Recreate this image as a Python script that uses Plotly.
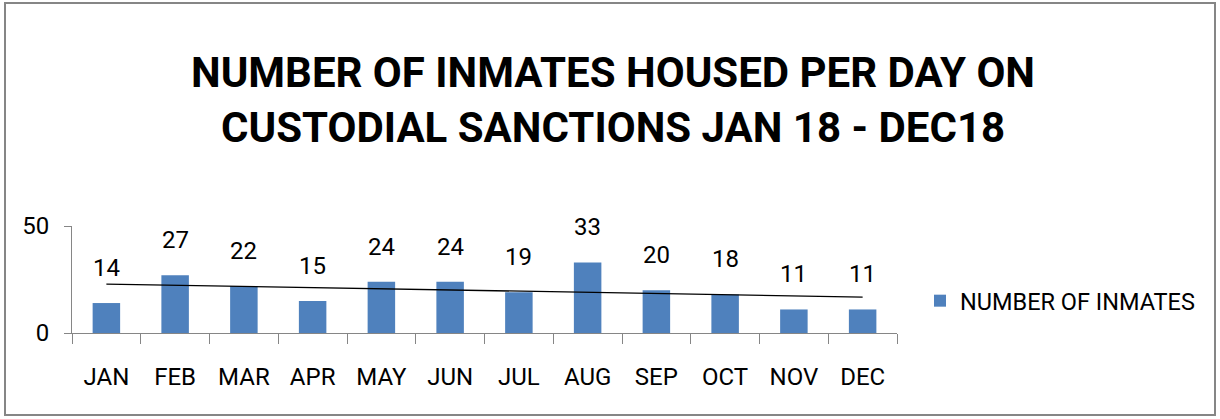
import numpy as np
import plotly.graph_objects as go

months = ["JAN", "FEB", "MAR", "APR", "MAY", "JUN", "JUL", "AUG", "SEP", "OCT", "NOV", "DEC"]
inmates = [14, 27, 22, 15, 24, 24, 19, 33, 20, 18, 11, 11]
series_name = "NUMBER OF INMATES"
title_lines = ["NUMBER OF INMATES HOUSED PER DAY ON", "CUSTODIAL SANCTIONS JAN 18 - DEC18"]
y_ticks = [0, 50]

FONT = "Roboto, DejaVu Sans Condensed, sans-serif"
BLUE = "#4F81BD"

# linear trend line (as in the spreadsheet's trendline)
xi = np.arange(1, len(inmates) + 1)
slope, intercept = np.polyfit(xi, inmates, 1)
trend = (slope * xi + intercept).tolist()

fig = go.Figure()
fig.add_trace(go.Bar(
    x=months, y=inmates, name=series_name, width=0.4,
    marker=dict(color=BLUE, line=dict(width=0)),
    showlegend=True,
))
fig.add_trace(go.Scatter(
    x=months, y=trend, mode="lines", line=dict(color="black", width=1.3),
    showlegend=False, hoverinfo="skip",
))

for m, v in zip(months, inmates):
    fig.add_annotation(x=m, y=v, text=str(v), showarrow=False, yshift=35,
                       font=dict(family=FONT, size=24, color="#000000"))

L, R, T, B = 72, 323, 226, 86
pw, ph = 1220 - L - R, 419 - T - B


def px_x(px):
    return (px - L) / pw


def px_y(py):
    return (419 - B - py) / ph


# title lines
for line, cy in zip(title_lines, [72, 128]):
    fig.add_annotation(x=px_x(613), y=px_y(cy), xref="paper", yref="paper",
                       xanchor="center", yanchor="middle", showarrow=False,
                       text="<b>" + line + "</b>",
                       font=dict(family=FONT, size=42, color="black"))

# chart border
fig.add_shape(type="rect", xref="paper", yref="paper",
              x0=px_x(5), x1=px_x(1215), y0=px_y(415), y1=px_y(3),
              line=dict(color="#868686", width=2), fillcolor="rgba(0,0,0,0)", layer="below")

fig.update_layout(
    width=1220, height=419,
    margin=dict(l=L, r=R, t=T, b=B),
    paper_bgcolor="white", plot_bgcolor="white",
    font=dict(family=FONT, size=24, color="black"),
    bargap=0.6,
    legend=dict(x=px_x(920), y=0.3, xanchor="left", yanchor="middle",
                font=dict(family=FONT, size=23.5, color="black"),
                itemwidth=30, bgcolor="rgba(0,0,0,0)"),
    xaxis=dict(type="category", showline=True, linecolor="#868686", linewidth=1,
               ticks="outside", ticklen=10, tickcolor="#868686",
               tickson="boundaries", showgrid=False, zeroline=False,
               tickfont=dict(family=FONT, size=24), ticklabelstandoff=22),
    yaxis=dict(range=[0, 50], tickvals=y_ticks, showline=True, linecolor="#868686",
               ticks="outside", ticklen=7, tickcolor="#868686",
               showgrid=True, gridcolor="#868686", zeroline=False,
               tickfont=dict(family=FONT, size=24), ticklabelstandoff=10),
)

fig.write_html("out.html")
